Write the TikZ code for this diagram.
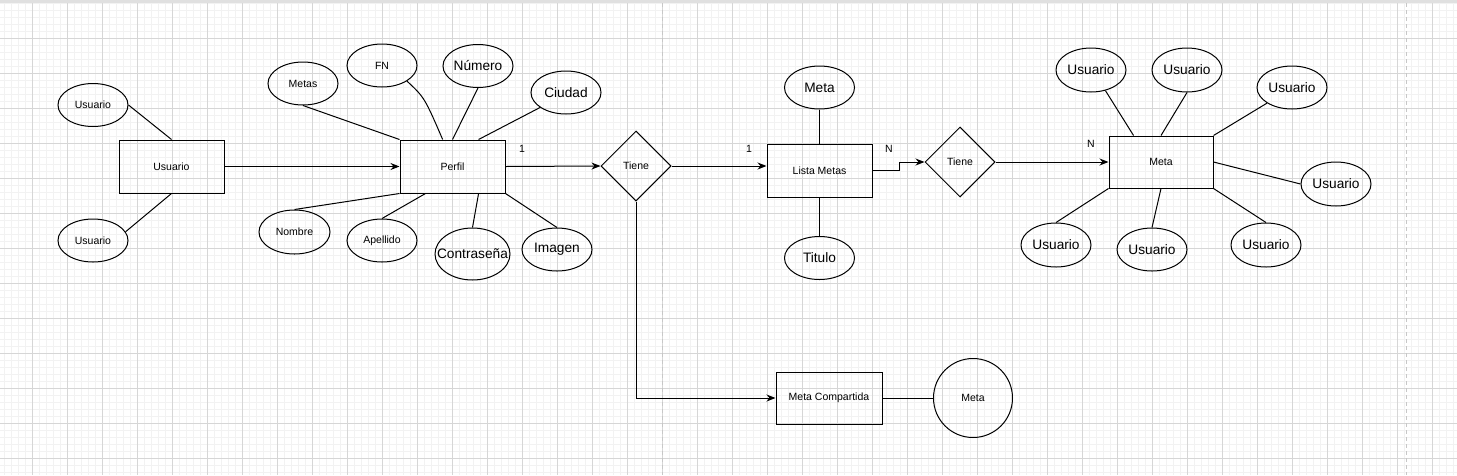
\documentclass[tikz,border=0pt]{standalone}
\usepackage{fontspec}
\setmainfont{Liberation Sans}
\usetikzlibrary{shapes.geometric,arrows.meta}
\newcommand{\letrachica}{\fontsize{10.5}{12}\selectfont}
\newcommand{\letragrande}{\fontsize{13.7}{16}\selectfont}
\begin{document}
\begin{tikzpicture}[x=1pt,y=-1pt,
 entidad/.style={draw, line width=1pt, minimum width=105pt, minimum height=53pt, inner sep=0pt, font=\letrachica},
 atributo/.style={draw, ellipse, line width=1pt, minimum width=70pt, minimum height=43pt, inner sep=0pt, font=\letrachica},
 atrgrande/.style={atributo, font=\letragrande},
 relacion/.style={draw, diamond, line width=1pt, minimum width=70pt, minimum height=70pt, inner sep=0pt, font=\letrachica},
 linea/.style={line width=1pt},
 flecha/.style={line width=1pt, -{Stealth[length=9pt,width=7pt]}},
 card/.style={font=\letrachica, inner sep=0pt},
 rejilla/.style={black!5, line width=1pt},
 rejmayor/.style={black!16, line width=1pt},
 pagina/.style={black!22, line width=1pt, dash pattern=on 4pt off 3pt}]
 \useasboundingbox (0,0) rectangle (1457,475);
 % fondo
 \fill[black!12] (0,0) rectangle (1457,3);
 \foreach \gx in {4,11,...,1453} \draw[rejilla] (\gx,3) -- (\gx,475);
 \foreach \gy in {3,10,...,472} \draw[rejilla] (0,\gy) -- (1457,\gy);
 \foreach \gx in {32,67,...,1432} \draw[rejmayor] (\gx,3) -- (\gx,475);
 \foreach \gy in {38,73,...,458} \draw[rejmayor] (0,\gy) -- (1457,\gy);
 \draw[pagina] (662,3) -- (662,475);
 \draw[pagina] (1406,3) -- (1406,475);
 %
 \node[entidad] (usuario) at (171.5,166.5) {Usuario};
 \node[atributo] (usrA) at (93,105) {Usuario};
 \node[atributo] (usrB) at (93,240.5) {Usuario};
 \draw[linea] (usrA.east) -- (usuario.north);
 \draw[linea] (usuario.south) -- (usrB.15);
 %
 \node[entidad] (perfil) at (452.5,166.5) {Perfil};
 \node[atributo] (metas) at (303,83.5) {Metas};
 \node[atributo] (fn) at (382,65.5) {FN};
 \node[atrgrande] (numero) at (478,66) {Número};
 \node[atrgrande] (ciudad) at (566,92.5) {Ciudad};
 \node[atributo, minimum width=71pt, minimum height=44pt] (nombre) at (294.5,232) {Nombre};
 \node[atributo] (apellido) at (382,240.5) {Apellido};
 \node[atrgrande, minimum width=75pt, minimum height=52pt, inner xsep=-12pt] (contrasena) at (472.5,254) {Contraseña};
 \node[atrgrande] (imagen) at (557,249.5) {Imagen};
 \draw[flecha] (usuario.east) -- (perfil.west);
 \draw[linea] (metas.south) -- (perfil.north west);
 \draw[linea] (fn.-32) .. controls (424.5,97.5) .. (perfil.110);
 \draw[linea] (numero.south) -- (perfil.north);
 \draw[linea] (ciudad.-150) -- (perfil.46);
 \draw[linea] (perfil.south west) -- (nombre.north);
 \draw[linea] (perfil.-135) -- (apellido.north);
 \draw[linea] (perfil.-46) -- (contrasena.north);
 \draw[linea] (perfil.south east) -- (imagen.north);
 %
 \node[relacion] (tiene1) at (636,166) {Tiene};
 \node[card] (c1) at (522,149) {1};
 \draw[flecha] (perfil.east) -- (tiene1.west);
 %
 \node[entidad] (lista) at (819.5,170.5) {Lista Metas};
 \node[atrgrande] (meta1) at (819.5,87.5) {Meta};
 \node[atrgrande] (titulo) at (819.5,258) {Titulo};
 \node[card] (c2) at (749,149) {1};
 \draw[flecha] (tiene1.east) -- (tiene1.east -| lista.west);
 \draw[linea] (meta1.south) -- (lista.north);
 \draw[linea] (lista.south) -- (titulo.north);
 %
 \node[relacion] (tiene2) at (960,162) {Tiene};
 \node[card] (c3) at (889,149) {N};
 \draw[flecha] (lista.east) -- ++(27,0) |- (tiene2.west);
 %
 \node[entidad, minimum width=104pt, minimum height=52pt] (meta) at (1161,162) {Meta};
 \node[card] (c4) at (1091,144) {N};
 \draw[flecha] (tiene2.east) -- (meta.west);
 \node[atrgrande, minimum height=44pt] (u1) at (1091,70) {Usuario};
 \node[atrgrande, minimum height=44pt] (u2) at (1187,70) {Usuario};
 \node[atrgrande] (u3) at (1292,87.5) {Usuario};
 \node[atrgrande, minimum height=44pt] (u4) at (1336,184) {Usuario};
 \node[atrgrande, minimum height=44pt] (u5) at (1056,245) {Usuario};
 \node[atrgrande] (u6) at (1152,249.5) {Usuario};
 \node[atrgrande, minimum height=44pt] (u7) at (1266,245) {Usuario};
 \draw[linea] (u1.-55) -- (meta.136);
 \draw[linea] (u2.south) -- (meta.north);
 \draw[linea] (u3.-148) -- (meta.north east);
 \draw[linea] (meta.east) -- (u4.west);
 \draw[linea] (meta.south west) -- (u5.north);
 \draw[linea] (meta.south) -- (u6.north);
 \draw[linea] (meta.south east) -- (u7.north);
 %
 \node[entidad, minimum width=106pt, minimum height=52pt] (compartida) at (829,398) {Meta Compartida};
 \node[draw, circle, line width=1pt, minimum size=79pt, inner sep=0pt, font=\letrachica] (metaC) at (973,398) {Meta};
 \draw[flecha] (tiene1.south) |- (compartida.west);
 \draw[linea] (compartida.east) -- (metaC.west);
\end{tikzpicture}
\end{document}
